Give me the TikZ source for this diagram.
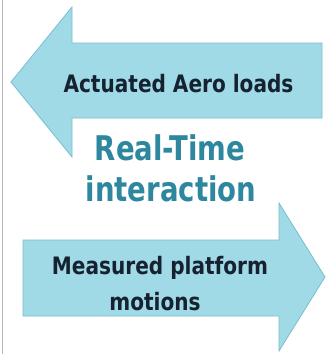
\documentclass[tikz,border=0pt]{standalone}
\usepackage{fontspec}
\newfontfamily\condfont{DejaVu Sans Condensed}
\definecolor{arrowfill}{RGB}{160,218,230}
\definecolor{arrowline}{RGB}{122,190,206}
\definecolor{titleteal}{RGB}{45,135,158}
\definecolor{labeldark}{RGB}{22,34,48}
\definecolor{borderline}{RGB}{185,185,185}
\newcommand\squeezetext[2]{\scalebox{#1}[1]{#2}}
\tikzset{
  bigarrow/.style={fill=arrowfill, draw=arrowline, line width=0.8pt, line join=miter},
  arrowlabel/.style={anchor=base, text=labeldark, font=\condfont\bfseries\fontsize{24}{28}\selectfont, inner sep=0pt},
  titlelabel/.style={anchor=base, text=titleteal, font=\condfont\bfseries\fontsize{34}{38}\selectfont, inner sep=0pt}
}
\begin{document}
\begin{tikzpicture}[x=1pt,y=-1pt]
\useasboundingbox (0,0) rectangle (326,354);
\fill[white] (0,0) rectangle (326,354);
\draw[borderline, line width=1.5pt] (2.5,0) -- (2.5,354);
% top arrow (pointing left)
\draw[bigarrow] (11,82) -- (72,7) -- (72,43) -- (322,43) -- (322,118) -- (72,118) -- (72,157) -- cycle;
% bottom arrow (pointing right)
\draw[bigarrow] (23,240) -- (279,240) -- (279,203) -- (325,277) -- (279,351) -- (279,316) -- (23,316) -- cycle;
\node[arrowlabel] (aero) at (178.5,92) {\squeezetext{0.93}{Actuated Aero loads}};
\node[titlelabel] (rt) at (170,160) {\squeezetext{0.9}{Real-Time}};
\node[titlelabel] (inter) at (171,201) {\squeezetext{0.9}{interaction}};
\node[arrowlabel] (meas) at (160,274) {\squeezetext{0.93}{Measured platform}};
\node[arrowlabel] (mot) at (155,310) {\squeezetext{0.93}{motions}};
\end{tikzpicture}
\end{document}
